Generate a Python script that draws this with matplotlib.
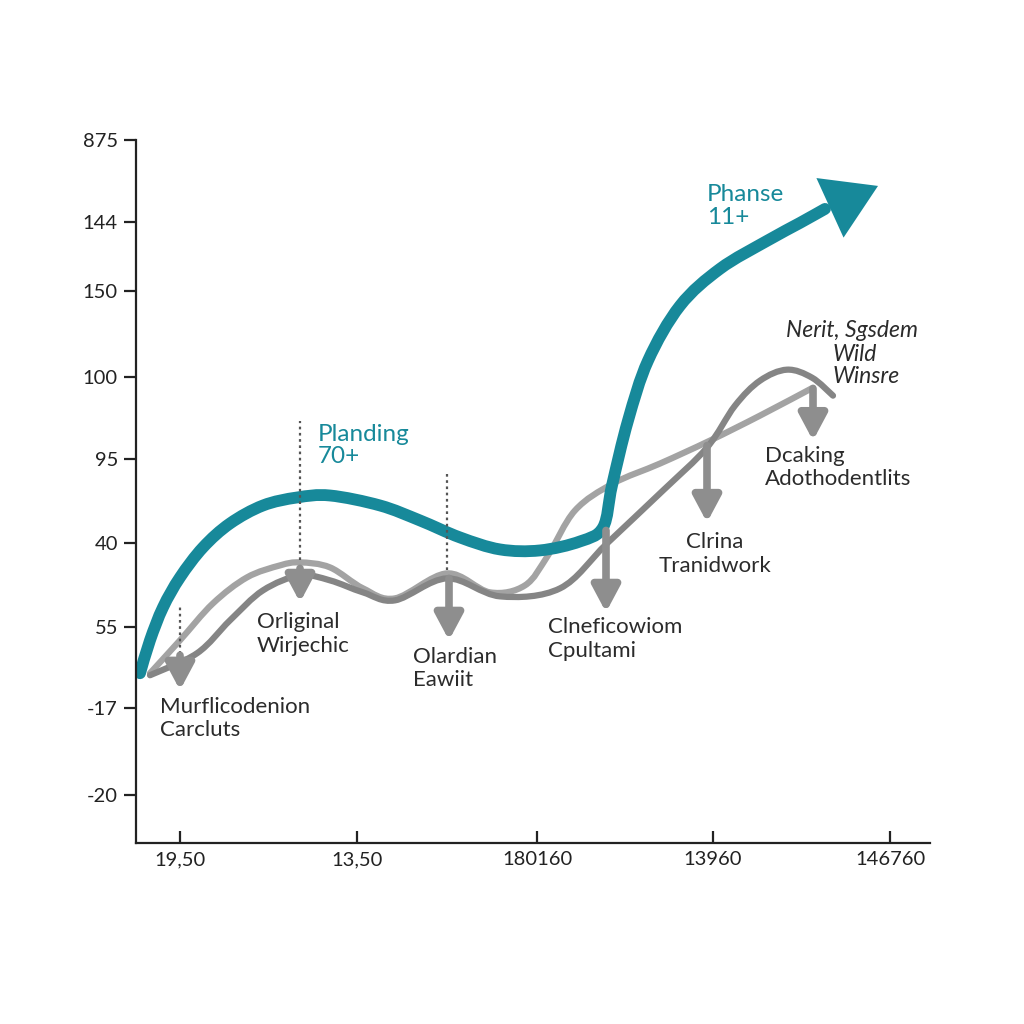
import matplotlib
matplotlib.use("Agg")
import matplotlib.pyplot as plt
from matplotlib.path import Path
from matplotlib.patches import PathPatch

plt.rcParams['font.family'] = ['Lato', 'DejaVu Sans']

# Axis ticks (positions on an internal scale, labels as printed)
y_tick_pos = [70.4, 62.2, 55.3, 46.7, 38.5, 30.0, 21.6, 13.5, 4.8]
y_tick_labels = ['875', '144', '150', '100', '95', '40', '55', '-17', '-20']
x_tick_pos = [4.4, 22.1, 40.1, 57.7, 75.4]
x_tick_labels = ['19,50', '13,50', '180160', '13960', '146760']

# Teal main curve
teal_x = [0.4, 1.4, 2.7, 4.4, 6.7, 9.4, 12.7, 16.1, 19.4, 24.4, 28.4, 32.4, 36.4,
          40.4, 44.4, 46.7, 47.6, 49.2, 51.2, 54.4, 58.4, 63.1, 66.4, 68.9]
teal_y = [17.0, 20.3, 23.6, 26.6, 29.6, 32.0, 33.8, 34.6, 34.8, 33.8, 32.3, 30.6, 29.4,
          29.3, 30.2, 31.6, 35.8, 42.3, 48.3, 53.8, 57.5, 60.3, 62.1, 63.5]
teal_head = [(69.6, 63.7), (74.2, 65.8)]

# Gray curves
gray_a_x = [1.4, 4.4, 7.7, 11.1, 14.4, 16.4, 19.4, 22.7, 25.9, 31.1, 35.4, 38.9, 41.2,
            43.9, 47.7, 52.4, 57.4, 62.4, 67.7]
gray_a_y = [17.0, 20.3, 24.0, 26.6, 27.8, 28.1, 27.6, 25.5, 24.5, 27.0, 25.1, 25.8, 28.8,
            33.3, 36.0, 38.0, 40.3, 42.8, 45.6]
gray_b_x = [1.4, 6.1, 9.4, 12.7, 16.4, 19.4, 22.7, 25.9, 31.1, 36.4, 42.4, 47.1, 52.7,
            57.1, 59.9, 62.4, 65.1, 67.6, 69.7]
gray_b_y = [16.8, 19.0, 22.3, 25.3, 26.8, 26.3, 25.1, 24.3, 26.5, 24.7, 25.5, 30.0, 35.3,
            39.6, 43.8, 46.3, 47.4, 46.6, 44.8]

# Dotted guides: (x, y_low, y_high)
guides = [(16.4, 28.3, 42.3), (31.1, 27.3, 37.1), (4.4, 18.3, 23.6)]

# Down arrows: (x, y_start, y_end)
drops = [(4.4, 18.8, 15.3), (16.4, 27.5, 24.1), (31.3, 26.5, 20.3),
         (47.0, 31.3, 23.1), (57.1, 39.8, 32.1), (67.7, 45.5, 40.3)]

# Gray annotations: (text, x, y, ha)
notes = [
    ("Murflicodenion\nCarcluts", 2.4, 14.6, 'left'),
    ("Orliginal\nWirjechic", 12.1, 23.1, 'left'),
    ("Olardian\nEawiit", 27.7, 19.6, 'left'),
    ("Clneficowiom\nCpultami", 41.2, 22.6, 'left'),
    ("Clrina\nTranidwork", 57.9, 31.1, 'center'),
    ("Dcaking\nAdothodentlits", 62.9, 39.8, 'left'),
]
teal_notes = [("Planding\n70+", 18.2, 42.0), ("Phanse\n11+", 57.1, 66.0)]

TEAL = '#17899a'


def smooth(xs, ys):
    # cubic bezier segments through every read point (catmull-rom style handles)
    pts = list(zip(xs, ys))
    verts = [pts[0]]
    codes = [Path.MOVETO]
    for i in range(len(pts) - 1):
        p0 = pts[max(i - 1, 0)]
        p1, p2 = pts[i], pts[i + 1]
        p3 = pts[min(i + 2, len(pts) - 1)]
        c1 = (p1[0] + (p2[0] - p0[0]) / 6, p1[1] + (p2[1] - p0[1]) / 6)
        c2 = (p2[0] - (p3[0] - p1[0]) / 6, p2[1] - (p3[1] - p1[1]) / 6)
        verts += [c1, c2, p2]
        codes += [Path.CURVE4] * 3
    return Path(verts, codes)


fig = plt.figure(figsize=(10.24, 10.24), dpi=100)
ax = fig.add_axes([136 / 1024, 1 - 843 / 1024, (930 - 136) / 1024, (843 - 140) / 1024])
ax.set_xlim(0, 79.4)
ax.set_ylim(0, 70.3)

# gray curves
ax.add_patch(PathPatch(smooth(gray_a_x, gray_a_y), fill=False, lw=4.5,
                       edgecolor='#a3a3a3', capstyle='round', joinstyle='round'))
ax.add_patch(PathPatch(smooth(gray_b_x, gray_b_y), fill=False, lw=4.5,
                       edgecolor='#858585', capstyle='round', joinstyle='round'))

# dotted guides
for gx, lo, hi in guides:
    ax.plot([gx, gx], [lo, hi], color='#555555', lw=1.6, ls=(0, (1.2, 1.6)))

# down arrows
for dx, y0, y1 in drops:
    ax.annotate('', xy=(dx, y1), xytext=(dx, y0),
                arrowprops=dict(arrowstyle='-|>,head_length=0.6,head_width=0.32',
                                lw=5.5, color='#8e8e8e', mutation_scale=26,
                                shrinkA=0, shrinkB=0))

# teal curve + head
ax.add_patch(PathPatch(smooth(teal_x, teal_y), fill=False, lw=8.5,
                       edgecolor=TEAL, capstyle='round', joinstyle='round'))
ax.annotate('', xy=teal_head[1], xytext=teal_head[0],
            arrowprops=dict(arrowstyle='-|>,head_length=1.0,head_width=0.62',
                            lw=0, color=TEAL, mutation_scale=38,
                            shrinkA=0, shrinkB=0))

for txt, tx, ty, ha in notes:
    ax.text(tx, ty, txt, ha=ha, va='top', fontsize=16, color='#2b2b2b',
            linespacing=1.2, multialignment=ha)
for txt, tx, ty in teal_notes:
    ax.text(tx, ty, txt, ha='left', va='top', fontsize=17.5, color=TEAL, linespacing=1.1)

ax.text(78.2, 52.4, "Nerit, Sgsdem", ha='right', va='top', fontsize=16.5,
        style='italic', color='#2b2b2b')
ax.text(69.7, 50.0, "Wild\nWinsre", ha='left', va='top', fontsize=16.5,
        style='italic', color='#2b2b2b', linespacing=1.05)

# axes styling
for side in ['top', 'right']:
    ax.spines[side].set_visible(False)
for side in ['left', 'bottom']:
    ax.spines[side].set_linewidth(1.6)
    ax.spines[side].set_color('#222222')

ax.set_yticks(y_tick_pos)
ax.set_yticklabels(y_tick_labels)
ax.set_xticks(x_tick_pos)
ax.set_xticklabels(x_tick_labels)
ax.tick_params(axis='y', direction='out', length=9, width=1.6, colors='#222222',
               labelsize=14.5, pad=4)
ax.tick_params(axis='x', direction='in', length=9, width=1.6, colors='#222222',
               labelsize=14.5, pad=6)

fig.savefig('out.png', dpi=100, facecolor='white')
